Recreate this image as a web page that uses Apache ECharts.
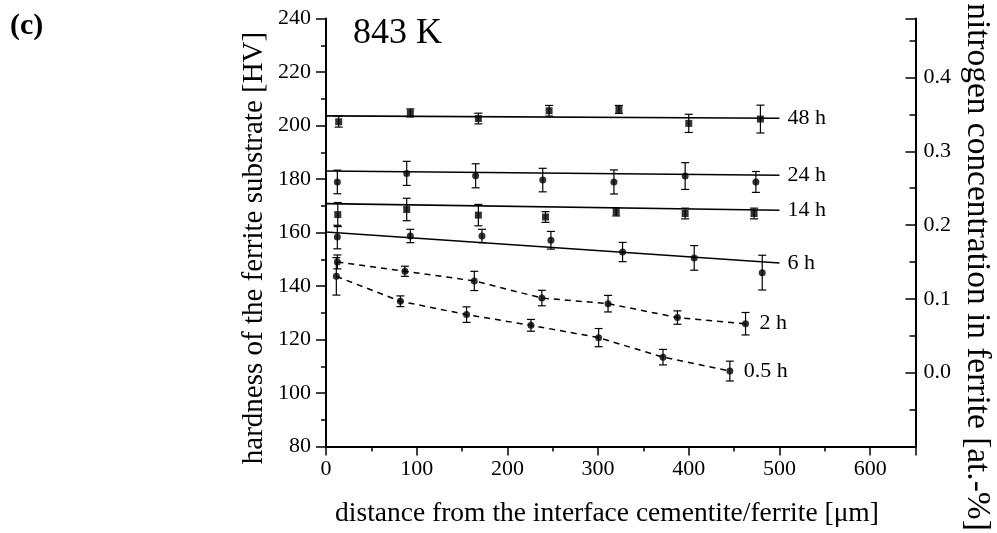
<!DOCTYPE html>
<html>
<head>
<meta charset="utf-8">
<script src="https://cdn.jsdelivr.net/npm/echarts@6/dist/echarts.min.js"></script>
<style>
html,body{margin:0;padding:0;background:#fff;}
#chart{width:997px;height:533px;}
</style>
</head>
<body>
<div id="chart"></div>
<script>
// ---- data ----
const labels = ['48 h', '24 h', '14 h', '6 h', '2 h', '0.5 h'];

const x48 = [14, 93, 168, 246, 323, 400, 479];
const y48 = [201.4, 204.7, 202.6, 205.5, 206.0, 200.8, 202.4];
const e48 = [2, 1.5, 2, 2, 1.5, 3.4, 5.2];

const x24 = [12.5, 89, 165, 239, 317.5, 396, 474];
const y24 = [178.9, 182.1, 181.2, 179.6, 178.9, 181.1, 178.9];
const e24 = [4.4, 4.5, 4.5, 4.4, 4.5, 5, 3.9];

const x14 = [13, 89, 168, 242, 320, 396, 472];
const y14 = [166.7, 168.6, 166.5, 165.8, 167.7, 167.1, 167.1];
const e14 = [4.5, 4.2, 4, 2, 1.5, 2, 2];

const x6 = [12.5, 93, 172, 248, 327, 406, 481];
const y6 = [158.3, 158.7, 158.7, 157.1, 152.7, 150.5, 145.0];
const e6 = [4.4, 2.5, 2.5, 3.3, 3.6, 4.6, 6.5];

const x2 = [12.5, 87, 163.5, 238, 311, 387.5, 462.6];
const y2 = [149.0, 145.5, 141.9, 135.5, 133.4, 128.2, 125.9];
const e2 = [2.6, 1.9, 3.6, 2.9, 3.1, 2.5, 4.2];

const x05 = [11.4, 82, 155, 226, 300.6, 371.6, 445.3];
const y05 = [143.6, 134.3, 129.3, 125.3, 120.7, 113.4, 108.2];
const e05 = [7, 2, 2.9, 2.2, 3.4, 2.9, 3.7];

// linear fit lines (solid)
const fitX = [0, 500];
const fit48 = [203.6, 202.7];
const fit24 = [183.0, 181.4];
const fit14 = [170.8, 168.3];
const fit6 = [160.2, 148.6];

// ---- build chart ----
const FONT = '"Liberation Serif", "Times New Roman", serif';
const zip2 = (a, b) => a.map((v, i) => [v, b[i]]);
const zip3 = (a, b, c) => a.map((v, i) => [v, b[i], c[i]]);

function errRender(params, api) {
  const x = api.value(0), y = api.value(1), e = api.value(2);
  const lo = api.coord([x, y - e]);
  const hi = api.coord([x, y + e]);
  const w = 4;
  const st = { stroke: '#000', lineWidth: 1.2 };
  return {
    type: 'group',
    children: [
      { type: 'line', shape: { x1: lo[0], y1: lo[1], x2: hi[0], y2: hi[1] }, style: st },
      { type: 'line', shape: { x1: lo[0] - w, y1: lo[1], x2: lo[0] + w, y2: lo[1] }, style: st },
      { type: 'line', shape: { x1: hi[0] - w, y1: hi[1], x2: hi[0] + w, y2: hi[1] }, style: st }
    ]
  };
}

const groups = [
  { name: labels[0], x: x48, y: y48, e: e48, sym: 'rect', fit: fit48 },
  { name: labels[1], x: x24, y: y24, e: e24, sym: 'circle', fit: fit24 },
  { name: labels[2], x: x14, y: y14, e: e14, sym: 'rect', fit: fit14 },
  { name: labels[3], x: x6, y: y6, e: e6, sym: 'circle', fit: fit6 },
  { name: labels[4], x: x2, y: y2, e: e2, sym: 'circle', fit: null },
  { name: labels[5], x: x05, y: y05, e: e05, sym: 'circle', fit: null }
];

const series = [];
groups.forEach(g => {
  series.push({
    type: 'custom', name: g.name + ' err', renderItem: errRender,
    data: zip3(g.x, g.y, g.e), encode: { x: 0, y: 1 }, z: 3, silent: true
  });
  series.push({
    type: 'scatter', name: g.name + ' pts', data: zip2(g.x, g.y),
    symbol: g.sym, symbolSize: 7, itemStyle: { color: '#000' }, z: 4, silent: true
  });
  const dashed = !g.fit;
  series.push({
    type: 'line', name: g.name,
    data: dashed ? zip2(g.x, g.y) : zip2(fitX, g.fit),
    showSymbol: false, symbol: 'none', silent: true,
    lineStyle: { color: '#000', width: dashed ? 1.5 : 1.6, type: dashed ? [6, 5] : 'solid' },
    endLabel: {
      show: true, formatter: g.name, color: '#000', fontFamily: FONT, fontSize: 22,
      distance: dashed ? 14 : 8
    },
    z: 2
  });
});

const chart = echarts.init(document.getElementById('chart'), null, { renderer: 'canvas' });
chart.setOption({
  animation: false,
  backgroundColor: '#fff',
  grid: { left: 326, right: 81.5, top: 18.5, bottom: 86.5 },
  xAxis: {
    type: 'value', min: 0, max: 650, interval: 100,
    axisLine: { onZero: false, lineStyle: { color: '#000', width: 2 } },
    axisTick: { show: true, inside: false, length: 9, lineStyle: { color: '#000', width: 1.5 } },
    minorTick: { show: true, splitNumber: 2, length: 5, lineStyle: { color: '#000', width: 1.5 } },
    splitLine: { show: false },
    axisLabel: {
      color: '#000', fontFamily: FONT, fontSize: 22, margin: 12,
      formatter: v => (Math.abs(v % 100) < 1e-6 ? String(v) : '')
    }
  },
  yAxis: [
    {
      type: 'value', min: 80, max: 240, interval: 20, position: 'left',
      axisLine: { show: true, onZero: false, lineStyle: { color: '#000', width: 2 } },
      axisTick: { show: true, inside: false, length: 10, lineStyle: { color: '#000', width: 1.5 } },
      minorTick: { show: true, splitNumber: 2, length: 5, lineStyle: { color: '#000', width: 1.5 } },
      splitLine: { show: false },
      axisLabel: { color: '#000', fontFamily: FONT, fontSize: 22, margin: 15 }
    },
    {
      type: 'value', min: -0.1, max: 0.48, interval: 0.1, position: 'right',
      axisLine: { show: true, onZero: false, lineStyle: { color: '#000', width: 2 } },
      axisTick: { show: true, inside: true, length: 10, lineStyle: { color: '#000', width: 1.5 } },
      minorTick: { show: true, splitNumber: 2, length: 6, lineStyle: { color: '#000', width: 1.5 } },
      splitLine: { show: false },
      axisLabel: {
        color: '#000', fontFamily: FONT, fontSize: 22, margin: 8,
        formatter: v => (v < -0.05 || v > 0.45 ? '' : v.toFixed(1))
      }
    }
  ],
  series: series,
  graphic: [
    { type: 'text', x: 10, y: 26, style: { text: '(c)', font: 'bold 30px ' + FONT, fill: '#000', align: 'left', verticalAlign: 'middle' } },
    { type: 'text', x: 353, y: 34, style: { text: '843 K', font: '36px ' + FONT, fill: '#000', align: 'left', verticalAlign: 'middle' } },
    { type: 'text', x: 254, y: 248, rotation: Math.PI / 2, style: { text: 'hardness of the ferrite substrate [HV]', font: '29px ' + FONT, fill: '#000', align: 'center', verticalAlign: 'middle' } },
    { type: 'text', x: 977, y: 267, rotation: -Math.PI / 2, style: { text: 'nitrogen concentration in ferrite [at.-%]', font: '33.4px ' + FONT, fill: '#000', align: 'center', verticalAlign: 'middle' } },
    { type: 'text', x: 607, y: 514, style: { text: 'distance from the interface cementite/ferrite [\u03bcm]', font: '27.5px ' + FONT, fill: '#000', align: 'center', verticalAlign: 'middle' } }
  ]
});
</script>
</body>
</html>
